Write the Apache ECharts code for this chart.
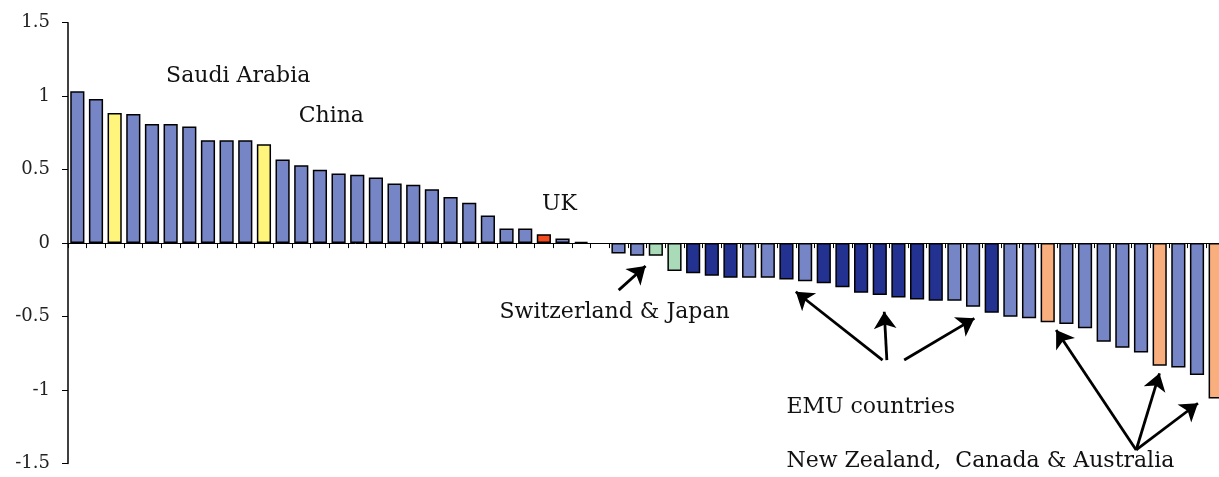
<!DOCTYPE html>
<html>
<head>
<meta charset="utf-8">
<script src="https://cdn.jsdelivr.net/npm/echarts@6/dist/echarts.min.js"></script>
<style>html,body{margin:0;padding:0;background:#fff;}#c{width:1219px;height:477px;}</style>
</head>
<body>
<div id="c"></div>
<script>
// ---- data ----
const categories = Array.from({length: 62}, (_, i) => String(i + 1));
const values = [1.034,0.98,0.886,0.878,0.81,0.81,0.794,0.70,0.70,0.70,0.673,0.569,0.53,0.50,0.474,0.465,0.447,0.406,0.397,0.366,0.313,0.274,0.188,0.10,0.10,0.061,0.032,0.009,null,-0.07,-0.086,-0.086,-0.19,-0.206,-0.222,-0.236,-0.236,-0.236,-0.247,-0.259,-0.274,-0.30,-0.338,-0.354,-0.37,-0.383,-0.392,-0.392,-0.433,-0.474,-0.501,-0.512,-0.539,-0.551,-0.58,-0.671,-0.712,-0.744,-0.835,-0.846,-0.898,-1.057];
// group of each bar: o = other, y = Saudi Arabia / China, r = UK, g = Switzerland & Japan, e = EMU, c = NZ/Canada/Australia
const groups = ("oo|y|ooooooo|y|oooooooooooooo|r|ooooo|gg|eee|oo|e|o|eeeeeee|oo|e|oo|c|ooooo|c|oo|c").replace(/\|/g, '').split('');
const yTicks = [-1.5, 1.5, 0.5];
const annotationTexts = ["Saudi Arabia", "China", "UK", "Switzerland & Japan", "EMU countries", "New Zealand,  Canada & Australia"];

// ---- styling / annotation placement ----
const groupColors = {o:'#7685C5', y:'#FFF47C', r:'#F24B1F', g:'#A9DBB8', e:'#233190', c:'#F9AE7E'};
const textPos = [
  {v:[9.12, 1.136], p:'inside'},
  {v:[14.11, 0.864], p:'inside'},
  {v:[26.34, 0.265], p:'inside'},
  {v:[29.29, -0.47], p:'inside'},
  {v:[38.47, -1.116], p:'right'},
  {v:[38.47, -1.488], p:'right'}
];
const arrows = [
  [29.51, -0.32, 30.95, -0.156],
  [43.65, -0.796, 39.0, -0.331],
  [43.88, -0.796, 43.74, -0.467],
  [44.81, -0.796, 48.57, -0.512],
  [57.24, -1.408, 52.95, -0.592],
  [57.24, -1.408, 58.49, -0.886],
  [57.24, -1.408, 60.55, -1.09]
];

const chart = echarts.init(document.getElementById('c'), null, {renderer:'canvas'});
chart.setOption({
  animation: false,
  grid: {left: 68, width: 1157, top: 22.7, bottom: 13.5, containLabel: false, outerBoundsMode: 'none'},
  xAxis: [
    {type:'category', data: categories,
     axisLine:{onZero:true, lineStyle:{color:'#000', width:1}},
     axisTick:{show:true, interval:0, length:5, lineStyle:{color:'#000', width:1}},
     axisLabel:{show:false}, splitLine:{show:false}},
    {type:'value', min:0, max:categories.length, show:false}
  ],
  yAxis: {type:'value', min:yTicks[0], max:yTicks[1], interval:yTicks[2],
    axisLine:{show:true, lineStyle:{color:'#000', width:1.5}},
    axisTick:{show:true, length:6, lineStyle:{color:'#000', width:1}},
    axisLabel:{margin:18, fontFamily:'DejaVu Serif', fontSize:18, color:'#222'},
    splitLine:{show:false}},
  series: [
    {type:'bar', xAxisIndex:0, barCategoryGap:'24%',
     itemStyle:{borderColor:'#000', borderWidth:1.5},
     data: values.map((v, i) => ({value: v, itemStyle:{color: groupColors[groups[i]]}})),
     silent:true},
    {type:'lines', coordinateSystem:'cartesian2d', xAxisIndex:1, yAxisIndex:0,
     symbol:['none','arrow'], symbolSize:[0,17],
     lineStyle:{color:'#000', width:2.8, opacity:1},
     data: arrows.map(a => ({coords:[[a[0],a[1]],[a[2],a[3]]]})),
     silent:true, z:5},
    {type:'scatter', xAxisIndex:1, yAxisIndex:0, symbolSize:1,
     itemStyle:{color:'rgba(0,0,0,0)', opacity:1},
     label:{show:true, formatter:'{b}', fontFamily:'DejaVu Serif', fontSize:22, color:'#111', opacity:1, distance:0},
     data: annotationTexts.map((t, i) => ({name:t, value:textPos[i].v, label:{position:textPos[i].p}})),
     silent:true, z:6}
  ]
});
</script>
</body>
</html>
